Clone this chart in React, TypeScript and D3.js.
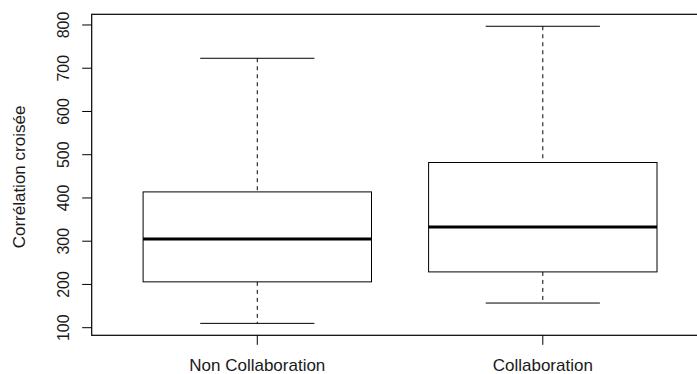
import React from "react";
import * as d3 from "d3";

const categories = ["Non Collaboration", "Collaboration"];
const whiskerLow = [110, 157];
const q1 = [206, 229];
const medians = [305, 333];
const q3 = [414, 482];
const whiskerHigh = [723, 797];
const yTicks = [100, 200, 300, 400, 500, 600, 700, 800];
const yLabel = "Corrélation croisée";

const W = 697;
const H = 374;
const FONT = "'Liberation Sans', Arial, sans-serif";

export default function App() {
  const y = d3.scaleLinear().domain([82.4, 824.7]).range([335.3, 14.3]);
  const x = d3.scaleLinear().domain([0.42, 2.58]).range([91.7, 708.4]);
  const unit = x(2) - x(1);
  const boxW = unit * 0.8;
  const capW = boxW / 2;
  const left = x(0.42);
  const right = x(2.58);
  const top = y(824.7);
  const bottom = y(82.4);

  return (
    <svg
      width={W}
      height={H}
      style={{ position: "absolute", left: 0, top: 0, background: "#fff" }}
      fontFamily={FONT}
    >
      <rect x={0} y={0} width={W} height={H} fill="#fff" />
      {categories.map((c, i) => {
        const cx = x(i + 1);
        return (
          <g key={c}>
            <line x1={cx} x2={cx} y1={y(whiskerHigh[i])} y2={y(q3[i])} stroke="#000" strokeWidth={1} strokeDasharray="4,4" />
            <line x1={cx} x2={cx} y1={y(q1[i])} y2={y(whiskerLow[i])} stroke="#000" strokeWidth={1} strokeDasharray="4,4" />
            <line x1={cx - capW / 2} x2={cx + capW / 2} y1={y(whiskerHigh[i])} y2={y(whiskerHigh[i])} stroke="#000" strokeWidth={1} />
            <line x1={cx - capW / 2} x2={cx + capW / 2} y1={y(whiskerLow[i])} y2={y(whiskerLow[i])} stroke="#000" strokeWidth={1} />
            <rect x={cx - boxW / 2} y={y(q3[i])} width={boxW} height={y(q1[i]) - y(q3[i])} fill="#fff" stroke="#000" strokeWidth={1} />
            <line x1={cx - boxW / 2} x2={cx + boxW / 2} y1={y(medians[i])} y2={y(medians[i])} stroke="#000" strokeWidth={3} />
            <line x1={cx} x2={cx} y1={bottom} y2={bottom + 9.5} stroke="#000" strokeWidth={1} />
            <text x={cx} y={371} textAnchor="middle" fontSize={17} fill="#1a1a1a">{c}</text>
          </g>
        );
      })}
      <rect x={left} y={top} width={right - left} height={bottom - top} fill="none" stroke="#000" strokeWidth={1.2} />
      {yTicks.map((t) => (
        <g key={t}>
          <line x1={left - 9.5} x2={left} y1={y(t)} y2={y(t)} stroke="#000" strokeWidth={1} />
          <text
            transform={`translate(${69}, ${y(t)}) rotate(-90)`}
            textAnchor="middle"
            fontSize={16}
            fill="#1a1a1a"
          >
            {t}
          </text>
        </g>
      ))}
      <text
        transform={`translate(${25}, ${177}) rotate(-90)`}
        textAnchor="middle"
        fontSize={17}
        fill="#1a1a1a"
      >
        {yLabel}
      </text>
    </svg>
  );
}
